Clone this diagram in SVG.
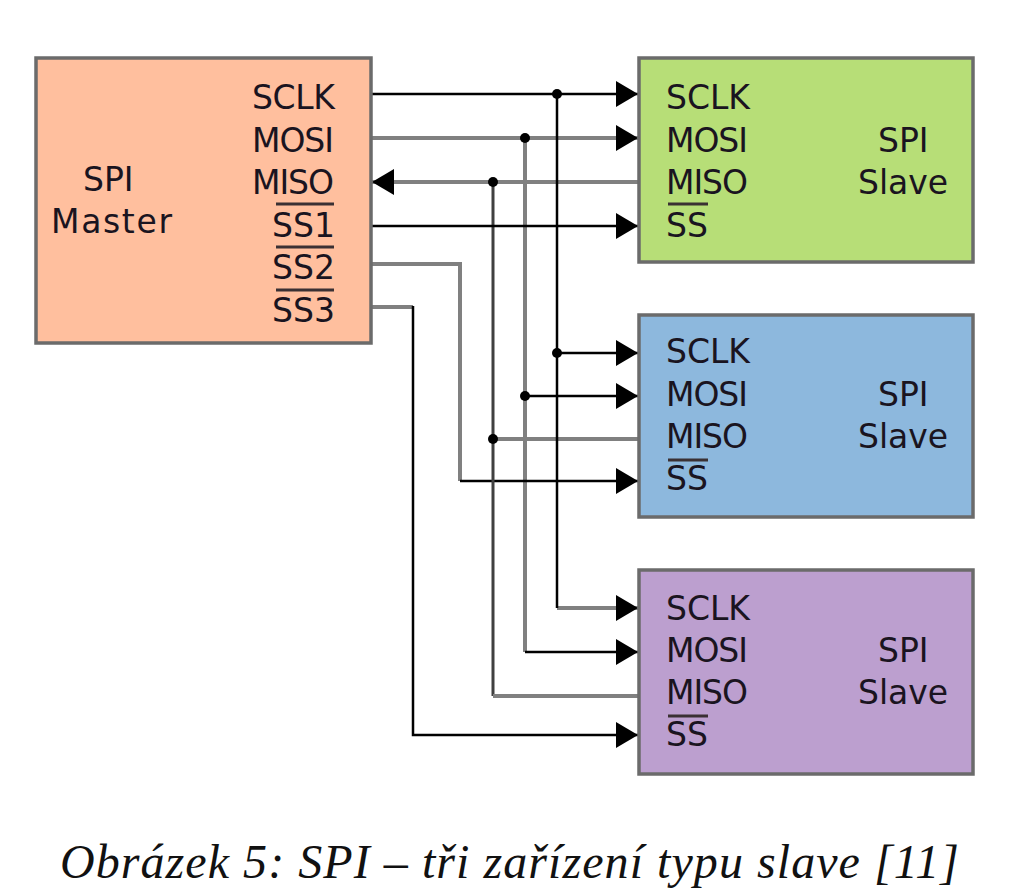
<svg xmlns="http://www.w3.org/2000/svg" width="1024" height="894" viewBox="0 0 1024 894">
<defs>
<marker id="a" markerUnits="userSpaceOnUse" markerWidth="24" markerHeight="26" refX="22" refY="13" orient="auto"><path d="M0 0L22 13L0 26Z" fill="#000"/></marker>
</defs>
<style>
.t{font-family:"DejaVu Sans",sans-serif;font-size:33px;fill:#1a1420}
.b{stroke:#6b6b6b;stroke-width:3.5}
.k{fill:none;stroke:#000;stroke-width:2.5}
.g{fill:none;stroke:#808080;stroke-width:4}
.m{fill:none;stroke:#404040;stroke-width:3}
.o{stroke:#3a3033;stroke-width:3}
.d{fill:#000}
</style>
<rect width="1024" height="894" fill="#fff"/>
<g id="connectors">
<path class="g" d="M371 138H638" marker-end="url(#a)"/>
<path class="g" d="M638 182H372" marker-end="url(#a)"/>
<path class="g" d="M525 138V652"/><path class="k" d="M525 652H638" marker-end="url(#a)"/>
<path class="k" d="M525 396H638" marker-end="url(#a)"/>
<path class="g" d="M371 264H460V481"/><path class="k" d="M460 481H638" marker-end="url(#a)"/>
<path class="g" d="M371 307H413"/><path class="k" d="M413 306V735H638" marker-end="url(#a)"/>
<path class="m" d="M493 182V696"/><path class="g" d="M493 696H638"/><path class="g" d="M493 439H638"/>
<path class="g" d="M557 608H638" marker-end="url(#a)"/>
<path class="k" d="M557 94V608"/>
<path class="k" d="M371 94H638" marker-end="url(#a)"/>
<path class="k" d="M371 226H638" marker-end="url(#a)"/>
<path class="k" d="M557 353H638" marker-end="url(#a)"/>
<circle class="d" cx="557" cy="94" r="5"/><circle class="d" cx="525" cy="138" r="5"/><circle class="d" cx="493" cy="182" r="5"/>
<circle class="d" cx="557" cy="353" r="5"/><circle class="d" cx="525" cy="396" r="5"/><circle class="d" cx="493" cy="439" r="5"/>
</g>
<g id="master"><rect class="b" x="36" y="58" width="335" height="285" fill="#ffbf9e"/>
<text class="t" x="83" y="191">SPI</text><text class="t" x="51" y="233" textLength="121">Master</text>
<text class="t" x="252" y="109" textLength="83">SCLK</text><text class="t" x="252" y="152" textLength="82">MOSI</text><text class="t" x="252" y="194" textLength="82">MISO</text>
<text class="t" x="272" y="237">SS1</text><text class="t" x="272" y="279">SS2</text><text class="t" x="272" y="322">SS3</text>
<path class="o" d="M276 204H334M276 247H334M276 290H334"/></g>
<g id="slave1"><rect class="b" x="639" y="58" width="334" height="204" fill="#b7de77"/>
<text class="t" x="666" y="109">SCLK</text><text class="t" x="666" y="152" textLength="82">MOSI</text><text class="t" x="666" y="194" textLength="82">MISO</text><text class="t" x="666" y="237">SS</text>
<path class="o" d="M668 204H708"/><text class="t" x="878" y="152">SPI</text><text class="t" x="858" y="194">Slave</text></g>
<g id="slave2"><rect class="b" x="639" y="315" width="334" height="202" fill="#8db8dd"/>
<text class="t" x="666" y="363">SCLK</text><text class="t" x="666" y="406" textLength="82">MOSI</text><text class="t" x="666" y="448" textLength="82">MISO</text><text class="t" x="666" y="490">SS</text>
<path class="o" d="M668 460H708"/><text class="t" x="878" y="406">SPI</text><text class="t" x="858" y="448">Slave</text></g>
<g id="slave3"><rect class="b" x="639" y="570" width="334" height="204" fill="#bc9fcf"/>
<text class="t" x="666" y="620">SCLK</text><text class="t" x="666" y="662" textLength="82">MOSI</text><text class="t" x="666" y="704" textLength="82">MISO</text><text class="t" x="666" y="746">SS</text>
<path class="o" d="M668 716H708"/><text class="t" x="878" y="662">SPI</text><text class="t" x="858" y="704">Slave</text></g>
<text x="60" y="878" font-family="'Liberation Serif',serif" font-style="italic" font-size="48" fill="#111" textLength="899">Obrázek 5: SPI – tři zařízení typu slave [11]</text>
</svg>
